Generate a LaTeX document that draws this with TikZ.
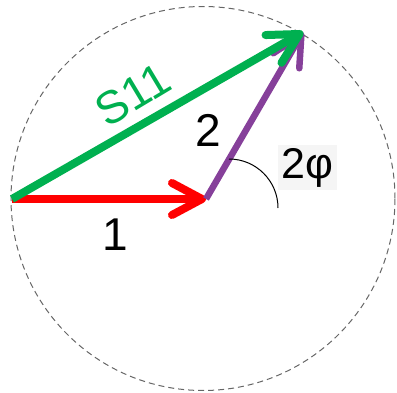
\documentclass[tikz,border=0pt]{standalone}
\usepackage{fontspec}
\setmainfont{Liberation Sans}
\usetikzlibrary{arrows.meta}
\definecolor{vgreen}{HTML}{00B050}
\definecolor{vred}{HTML}{FF0000}
\definecolor{vpurple}{HTML}{86409A}
\tikzset{
  vec/.style={line width=8pt, -{Straight Barb[length=30pt, width=32pt, round]}},
  lbl/.style={font=\fontsize{46}{46}\selectfont, inner sep=0pt},
}
\begin{document}
\begin{tikzpicture}[x=1pt,y=1pt]
\useasboundingbox (0,0) rectangle (397,392);
\draw[gray!80!black, line width=1pt, dash pattern=on 6pt off 4pt] (203,193.5) circle[radius=192];
\coordinate (O) at (12,193);
\coordinate (A) at (206,193);
\coordinate (B) at (303,360);
\draw[vec, vred] (O) -- (A);
\draw[vec, vpurple, line width=6.5pt, -{Straight Barb[length=30pt, width=30pt, round]}] (A) -- (B);
\draw[vec, vgreen] (O) -- (B);
\draw[line width=1pt] (229,233) arc[start angle=90, end angle=0, radius=49];
\node[lbl] (one) at (115,157) {1};
\node[lbl] (two) at (208,262) {2};
\node[lbl, text=vgreen, rotate=31] (s11) at (133,297) {S11};
\node[fill=black!4, minimum width=59pt, minimum height=45pt, inner sep=0pt, font=\fontsize{43}{43}\selectfont] (phi) at (307.5,224.5) {2φ};
\end{tikzpicture}
\end{document}
